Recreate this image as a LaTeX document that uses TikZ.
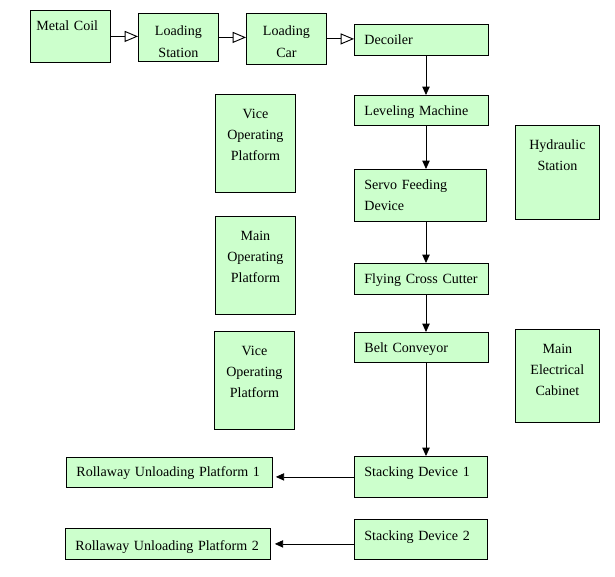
\documentclass[tikz,border=0pt]{standalone}
\usepackage{fontspec}
\setmainfont{Liberation Serif}
\usetikzlibrary{arrows.meta}
\definecolor{boxgreen}{RGB}{204,255,204}
\tikzstyle{unit} = [rectangle, anchor=north west,
draw=black, line width=0.7pt,
fill=boxgreen,
inner xsep=0.3cm, inner ysep=0pt,
text height=0.59cm,
align=left,
font=\fontsize{12}{18}\selectfont]
\tikzstyle{station} = [unit,
inner xsep=0pt,
text height=0.72cm,
align=center]
\tikzstyle{feed} = [line width=1.4pt, -{Triangle[open, length=0.4cm, width=0.33cm, line width=0.8pt]}]
\tikzstyle{flow} = [line width=0.7pt, -{Triangle[length=0.25cm, width=0.22cm]}]

\begin{document}
\begin{tikzpicture}
\useasboundingbox (0,0) rectangle (18.45,-17.28);

% top row
\node (coil) [unit, inner xsep=0.18cm, text width=2.04cm, text depth=0.97cm] at (0.90,-0.30) {Metal Coil};
\node (lstat) [station, text width=2.40cm, text height=0.675cm, text depth=0.765cm] at (4.14,-0.39) {Loading\\Station};
\node (lcar) [station, text width=2.40cm, text height=0.675cm, text depth=0.855cm] at (7.38,-0.39) {Loading\\Car};
\node (dec) [unit, text width=3.42cm, text depth=0.34cm] at (10.62,-0.72) {Decoiler};

% main line
\node (lev) [unit, text width=3.42cm, text depth=0.31cm] at (10.62,-2.85) {Leveling Machine};
\node (servo) [unit, text width=3.36cm, text depth=0.97cm] at (10.62,-5.07) {Servo Feeding\\Device};
\node (cut) [unit, text width=3.42cm, text depth=0.34cm] at (10.62,-7.89) {Flying Cross Cutter};
\node (belt) [unit, text width=3.42cm, text depth=0.31cm] at (10.62,-9.96) {Belt Conveyor};
\node (stack1) [unit, text width=3.39cm, text depth=0.64cm] at (10.62,-13.68) {Stacking Device 1};
\node (stack2) [unit, text width=3.39cm, text height=0.62cm, text depth=0.58cm] at (10.62,-15.57) {Stacking Device 2};

% platforms and cabinets
\node (vice1) [station, text width=2.40cm, text depth=2.22cm] at (6.45,-2.82) {Vice\\Operating\\Platform};
\node (mainop) [station, text width=2.40cm, text depth=2.22cm] at (6.45,-6.48) {Main\\Operating\\Platform};
\node (vice2) [station, text width=2.40cm, text depth=2.22cm] at (6.42,-9.93) {Vice\\Operating\\Platform};
\node (hyd) [station, text width=2.52cm, text depth=2.10cm] at (15.45,-3.75) {Hydraulic\\Station};
\node (cab) [station, text width=2.52cm, text depth=2.07cm] at (15.45,-9.87) {Main\\Electrical\\Cabinet};

% unloading
\node (roll1) [unit, text width=5.58cm, text height=0.56cm, text depth=0.34cm] at (1.98,-13.71) {Rollaway Unloading Platform 1};
\node (roll2) [unit, text width=5.55cm, text height=0.66cm, text depth=0.27cm] at (1.95,-15.84) {Rollaway Unloading Platform 2};

\coordinate (spine) at (12.78,0);

\draw [feed] (coil.east) -- (coil.east -| lstat.west);
\draw [feed] (lstat.east) -- (lstat.east -| lcar.west);
\draw [feed, line width=0.8pt] (lcar.east) -- (lcar.east -| dec.west);
\draw [flow] (dec.south -| spine) -- (lev.north -| spine);
\draw [flow] (lev.south -| spine) -- (servo.north -| spine);
\draw [flow] (servo.south -| spine) -- (cut.north -| spine);
\draw [flow] (cut.south -| spine) -- (belt.north -| spine);
\draw [flow] (belt.south -| spine) -- (stack1.north -| spine);
\draw [flow, shorten >=0.09cm] (stack1.west) -- (stack1.west -| roll1.east);
\draw [flow, shorten >=0.12cm] (stack2.west |- roll2.east) -- (roll2.east);

\end{tikzpicture}
\end{document}
